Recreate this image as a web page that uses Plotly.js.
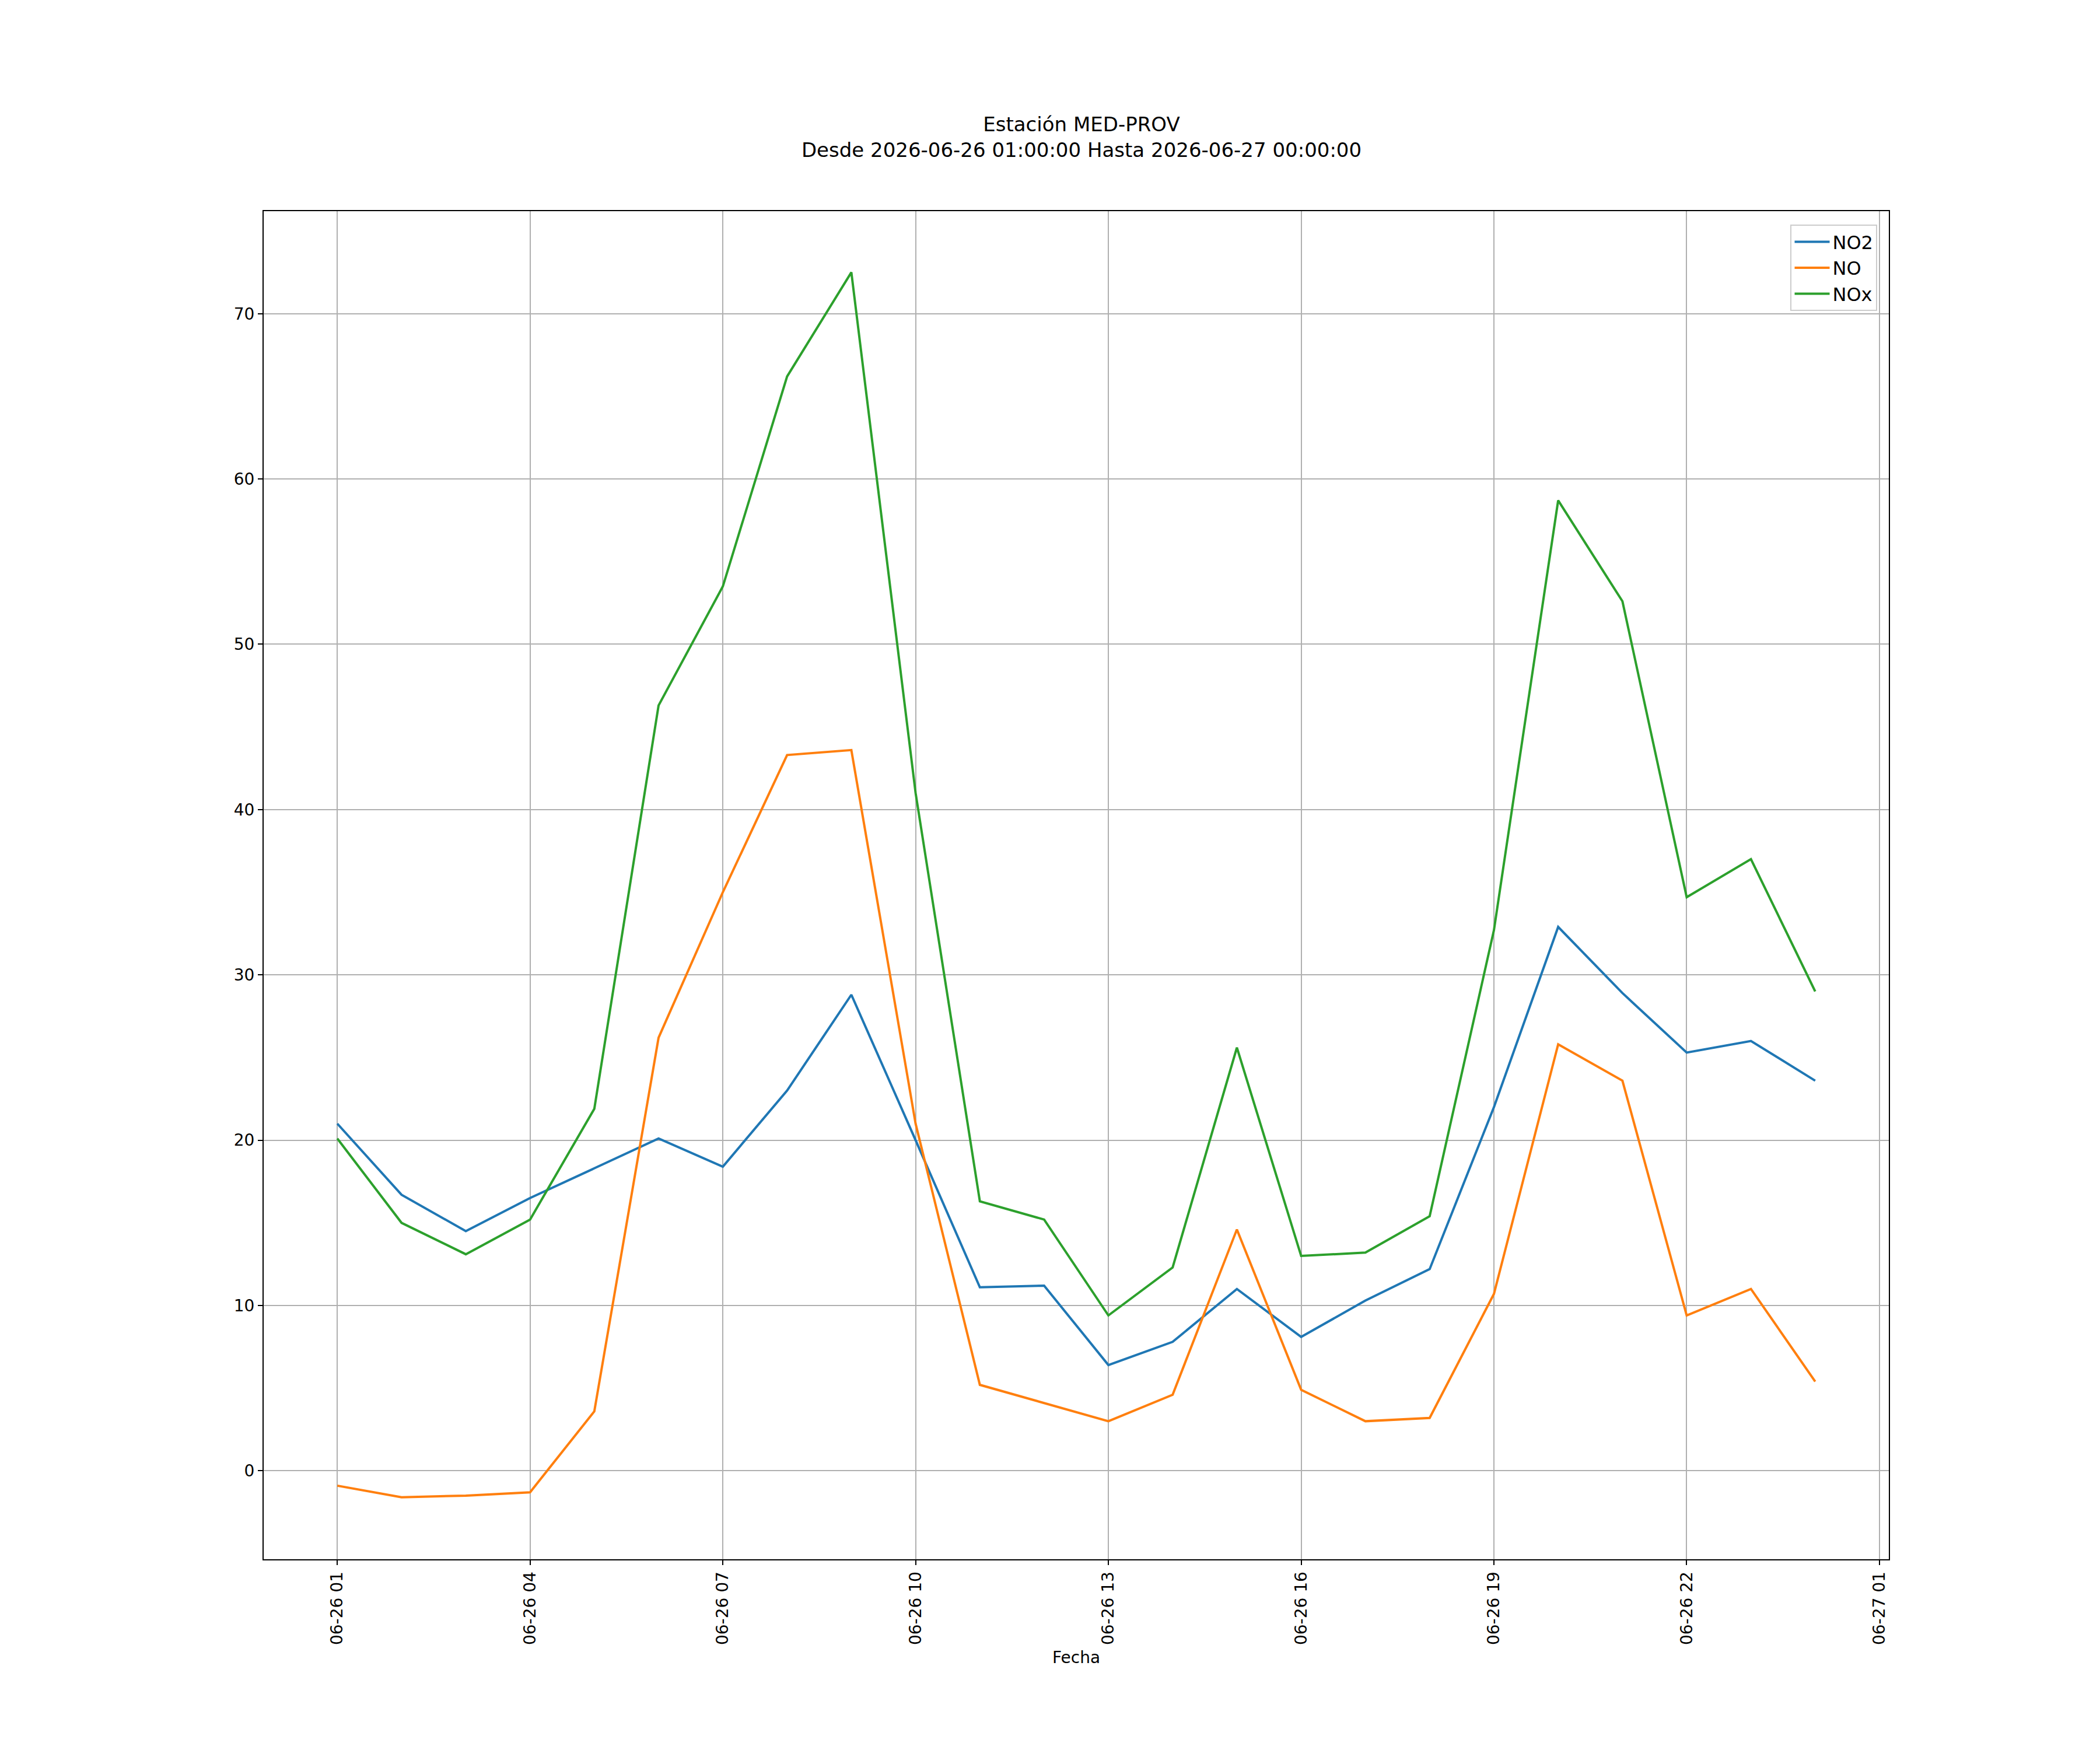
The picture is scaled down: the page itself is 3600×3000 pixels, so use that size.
<html><head><script src="https://cdn.plot.ly/plotly-3.0.1.min.js"></script></head><body style="margin:0">
<div id="g" style="width:3600px;height:3000px"></div>
<script>
const hours = ["2026-06-26 01:00","2026-06-26 02:00","2026-06-26 03:00","2026-06-26 04:00","2026-06-26 05:00","2026-06-26 06:00","2026-06-26 07:00","2026-06-26 08:00","2026-06-26 09:00","2026-06-26 10:00","2026-06-26 11:00","2026-06-26 12:00","2026-06-26 13:00","2026-06-26 14:00","2026-06-26 15:00","2026-06-26 16:00","2026-06-26 17:00","2026-06-26 18:00","2026-06-26 19:00","2026-06-26 20:00","2026-06-26 21:00","2026-06-26 22:00","2026-06-26 23:00","2026-06-27 00:00"];
const no2 = [21.0,16.7,14.5,16.5,18.3,20.1,18.4,23.0,28.8,20.0,11.1,11.2,6.4,7.8,11.0,8.1,10.3,12.2,22.0,32.9,28.9,25.3,26.0,23.6];
const no = [-0.9,-1.6,-1.5,-1.3,3.6,26.2,35.0,43.3,43.6,21.0,5.2,4.1,3.0,4.6,14.6,4.9,3.0,3.2,10.7,25.8,23.6,9.4,11.0,5.4];
const nox = [20.1,15.0,13.1,15.2,21.9,46.3,53.5,66.2,72.5,41.0,16.3,15.2,9.4,12.3,25.6,13.0,13.2,15.4,32.7,58.7,52.6,34.7,37.0,29.0];
const tickVals = ["2026-06-26 01:00","2026-06-26 04:00","2026-06-26 07:00","2026-06-26 10:00","2026-06-26 13:00","2026-06-26 16:00","2026-06-26 19:00","2026-06-26 22:00","2026-06-27 01:00"];
const tickText = ["06-26 01","06-26 04","06-26 07","06-26 10","06-26 13","06-26 16","06-26 19","06-26 22","06-27 01"];
const mk = (y,name,c)=>({x:hours,y:y,name:name,mode:'lines',line:{color:c,width:4}});
const ax = {showline:true,mirror:true,linecolor:'#000',linewidth:2,showgrid:true,gridcolor:'#b0b0b0',gridwidth:2,ticks:'outside',ticklen:8,tickwidth:2,tickcolor:'#000',zeroline:false,tickfont:{size:28,color:'#000'}};
Plotly.newPlot('g',[mk(no2,'NO2','#1f77b4'),mk(no,'NO','#ff7f0e'),mk(nox,'NOx','#2ca02c')],{
 width:3600,height:3000,paper_bgcolor:'#fff',plot_bgcolor:'#fff',
 font:{family:'DejaVu Sans',color:'#000'},
 margin:{l:452,r:362,t:362,b:327},
 title:{text:'Estación MED-PROV<br>Desde 2026-06-26 01:00:00 Hasta 2026-06-27 00:00:00',font:{size:34},x:0.515,xanchor:'center',y:0.925,yanchor:'top'},
 xaxis:Object.assign({},ax,{type:'date',range:['2026-06-25 23:51:15','2026-06-27 01:08:45'],tickvals:tickVals,ticktext:tickText,tickangle:-90,title:{text:'Fecha',font:{size:28},standoff:12}}),
 yaxis:Object.assign({},ax,{range:[-5.35,76.2],tickvals:[0,10,20,30,40,50,60,70]}),
 legend:{x:0.993,y:0.99,xanchor:'right',yanchor:'top',bordercolor:'#ccc',borderwidth:2,font:{size:32},tracegroupgap:0,itemwidth:60,bgcolor:'rgba(255,255,255,0.8)'}
},{displayModeBar:false});
</script></body></html>
